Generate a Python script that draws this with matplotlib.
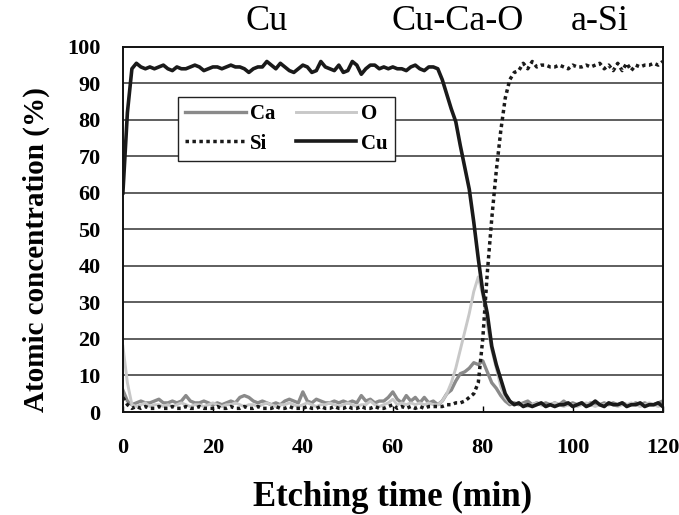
import numpy as np
import matplotlib
matplotlib.use("Agg")
import matplotlib.pyplot as plt

plt.rcParams["font.family"] = "Liberation Serif"

# etching time in minutes, one reading per minute
time_min = np.arange(0, 121)

cu = [60, 82, 94, 95.5, 94.5, 94, 94.5, 94, 94.5, 95,
      94, 93.5, 94.5, 94, 94, 94.5, 95, 94.5, 93.5, 94,
      94.5, 94.5, 94, 94.5, 95, 94.5, 94.5, 94, 93, 94,
      94.5, 94.5, 96, 95, 94, 95.5, 94.5, 93.5, 93, 94,
      95, 94.5, 93, 93.5, 96, 94.5, 94, 93.5, 95, 93,
      93.5, 96, 95, 92.5, 94, 95, 95, 94, 94.5, 94,
      94.5, 94, 94, 93.5, 94.5, 95, 94, 93.5, 94.5, 94.5,
      94, 91, 87, 83, 79.5, 73, 67, 61, 52, 42,
      33, 27, 18, 13, 9, 5, 3, 2, 2.5, 1.5,
      2, 1.5, 2, 2.5, 1.5, 2, 1.5, 2, 2, 2.5,
      1.5, 2, 2.5, 1.5, 2, 3, 2, 1.5, 2.5, 2,
      2, 2.5, 1.5, 2, 2, 2.5, 1.5, 2, 2, 2.5, 1.5]

si = [4, 2, 1, 1.5, 1, 1.5, 1, 1, 1.5, 1,
      1, 1.5, 1, 1, 1.5, 1, 1, 1.5, 1, 1,
      1, 1.5, 1, 1, 1.5, 1, 1, 1.5, 1, 1,
      1.5, 1, 1, 1, 1.5, 1, 1, 1.5, 1, 1,
      1, 1.5, 1, 1, 1.5, 1, 1, 1.5, 1, 1,
      1.5, 1, 1, 1.5, 1, 1, 1.5, 1, 1, 1.5,
      2, 1, 1.5, 1, 1.5, 1, 1.5, 1, 1.5, 1.5,
      1.5, 1.5, 2, 2, 2.5, 2.5, 3, 4, 5, 8,
      20, 38, 53, 66, 77, 86, 91, 93, 93.5, 95.5,
      94, 96, 94.5, 95, 95, 94.5, 94.5, 95, 94.5, 94,
      95, 94.5, 94.5, 95, 94.5, 95, 95.5, 94, 95, 93.5,
      95.5, 93.5, 95.5, 93.5, 95, 94.5, 95, 95, 95.5, 95, 96]

ca = [6, 3, 2, 2.5, 3, 2.5, 2.5, 3, 3.5, 2.5,
      2.5, 3, 2.5, 3, 4.5, 3, 2.5, 2.5, 3, 2.5,
      2, 2.5, 2, 2.5, 3, 2.5, 4, 4.5, 4, 3,
      2.5, 3, 2.5, 2, 2.5, 2, 3, 3.5, 3, 2.5,
      5.5, 3, 2.5, 3.5, 3, 2.5, 2.5, 3, 2.5, 3,
      2.5, 3, 2.5, 4.5, 3, 3.5, 2.5, 3, 3, 4,
      5.5, 3.5, 2.5, 4.5, 3, 4, 2.5, 4, 2.5, 3,
      2, 3, 5, 6, 8.5, 10.5, 11, 12, 13.5, 13,
      14, 11, 8, 6.5, 4.5, 3, 2, 2.5, 2, 2.5,
      3, 2, 2.5, 2, 2.5, 2, 2.5, 2, 3, 2,
      2.5, 2, 2.5, 2, 2.5, 2, 2, 2.5, 2, 2.5,
      2, 2.5, 2, 2, 2.5, 2, 2.5, 2, 2, 2.5, 3]

o = [18, 8, 2, 1.5, 2, 2.5, 1.5, 2, 2, 1.5,
     2, 1.5, 2, 2.5, 2, 1.5, 2, 2, 1.5, 2,
     2.5, 2, 1.5, 2, 2, 2.5, 2, 1.5, 2, 2,
     1.5, 2, 2.5, 2, 1.5, 2, 2, 2.5, 2, 1.5,
     2, 2.5, 2, 1.5, 2, 2, 2.5, 2, 1.5, 2,
     2.5, 2, 1.5, 2, 2, 3, 2, 1.5, 2, 2.5,
     3.5, 2, 2.5, 2, 2.5, 2, 2.5, 2, 2.5, 2,
     2, 3, 5, 8, 12, 17, 22, 27, 33, 37,
     32, 24, 17, 12, 7, 4, 2.5, 2, 2.5, 2,
     1.5, 2, 2.5, 2, 1.5, 2, 2.5, 2, 1.5, 2,
     2, 1.5, 2, 2.5, 2, 1.5, 2, 2, 2.5, 2,
     1.5, 2, 2, 2.5, 2, 1.5, 2, 2.5, 2, 1.5, 2]

regions = ["Cu", "Cu-Ca-O", "a-Si"]
region_x = [32, 74.5, 106]

fig = plt.figure(figsize=(6.79, 5.15), dpi=100)
ax = fig.add_axes([0.181, 0.2, 0.795, 0.709])

l_ca, = ax.plot(time_min, ca, color="#8a8a8a", lw=2.4, label="Ca")
l_o, = ax.plot(time_min, o, color="#c8c8c8", lw=2.1, label="O")
l_si, = ax.plot(time_min, si, color="#1a1a1a", lw=2.5,
                linestyle=(0, (1, 1)), label="Si")
l_cu, = ax.plot(time_min, cu, color="#1a1a1a", lw=2.6, label="Cu")

ax.set_xlim(0, 120)
ax.set_ylim(0, 100)
ax.set_xticks(range(0, 121, 20))
ax.set_yticks(range(0, 101, 10))
for yv in range(10, 100, 10):
    ax.axhline(yv, color="#333333", lw=1.1, zorder=0)

for sp in ax.spines.values():
    sp.set_linewidth(1.4)
    sp.set_color("#111111")

ax.tick_params(axis="x", direction="in", length=4, width=1, pad=19,
               labelsize=16)
ax.tick_params(axis="y", length=0, pad=16, labelsize=16)
for lab in ax.get_xticklabels() + ax.get_yticklabels():
    lab.set_fontweight("bold")

ax.set_xlabel("Etching time (min)", fontsize=25, fontweight="bold",
              labelpad=16)
ax.set_ylabel("Atomic concentration (%)", fontsize=21, fontweight="bold")
ax.yaxis.set_label_coords(-0.135, 0.444)

for name, xv in zip(regions, region_x):
    ax.text(xv, 102.5, name, fontsize=26, ha="center", va="bottom",
            clip_on=False)

leg = ax.legend(handles=[l_ca, l_si, l_o, l_cu], ncol=2, loc="upper left",
                bbox_to_anchor=(0.102, 0.863), borderaxespad=0,
                fancybox=False, framealpha=1, edgecolor="#222222",
                prop={"weight": "bold", "size": 15}, handlelength=2.9,
                columnspacing=1.0, handletextpad=0.2, labelspacing=0.45,
                borderpad=0.35)
leg.get_frame().set_linewidth(1.0)

fig.savefig("out.png", dpi=100)
